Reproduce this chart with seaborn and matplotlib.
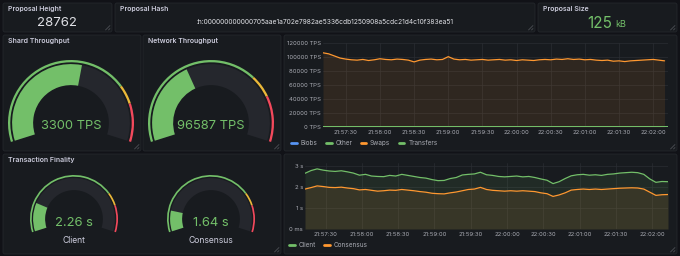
import numpy as np
import matplotlib
matplotlib.use("Agg")
import matplotlib.pyplot as plt
import seaborn as sns
from matplotlib.patches import FancyBboxPatch, Wedge
from matplotlib.lines import Line2D

# ------------------------------------------
# DATA
# ------------------------------------------
proposal_height = "28762"
proposal_hash = ":h:000000000000705aae1a702e7982ae5336cdb1250908a5cdc21d4c10f383ea51"
proposal_size = "125"
proposal_size_unit = "kB"

shard_tps = 3300
network_tps = 96587
client_finality = 2.26
consensus_finality = 1.64

shard_max = 6000
shard_thresholds = [0, 4500, 5000]
network_max = 250000
network_thresholds = [0, 175000, 200000]
finality_max = 12
finality_thresholds = [0, 9, 10]

# seconds after 21:57:00
tick_seconds = [30, 60, 90, 120, 150, 180, 210, 240, 270, 300]
tick_labels = ["21:57:30", "21:58:00", "21:58:30", "21:59:00", "21:59:30",
               "22:00:00", "22:00:30", "22:01:00", "22:01:30", "22:02:00"]

tps_series = ["Blobs", "Other", "Swaps", "Transfers"]
tps_ticks = [0, 20000, 40000, 60000, 80000, 100000, 120000]

swaps_t = np.arange(10, 315, 5)
swaps = [106000, 104500, 101500, 98500, 97000, 96000, 95500, 96500, 95000, 96000,
         97500, 96500, 96000, 97000, 96500, 95500, 93000, 95500, 96500, 97000,
         96000, 96500, 100500, 97000, 96000, 96500, 95500, 96000, 96500, 95500,
         96000, 96500, 95500, 96000, 95000, 96000, 95500, 95000, 96000, 96500,
         96000, 97000, 96500, 97500, 96500, 97000, 96000, 96500, 95500, 95000,
         95500, 94000, 94500, 93500, 94500, 95000, 95500, 96000, 96500, 95500,
         94500]
flat_t = [10, 313]
blobs = [0, 0]
other = [0, 0]
transfers = [0, 0]

finality_series = ["Client", "Consensus"]
finality_ticks = [0, 1, 2, 3]
finality_tick_labels = ["0 ms", "1 s", "2 s", "3 s"]

latency_t = np.arange(13, 318, 5)
client = [2.65, 2.78, 2.86, 2.80, 2.76, 2.74, 2.77, 2.72, 2.66, 2.56,
          2.60, 2.52, 2.50, 2.49, 2.55, 2.52, 2.60, 2.55, 2.50, 2.45,
          2.42, 2.35, 2.30, 2.31, 2.40, 2.45, 2.57, 2.60, 2.62, 2.70,
          2.58, 2.55, 2.50, 2.48, 2.50, 2.52, 2.48, 2.50, 2.45, 2.38,
          2.32, 2.16, 2.25, 2.40, 2.53, 2.58, 2.60, 2.56, 2.58, 2.55,
          2.60, 2.62, 2.66, 2.68, 2.70, 2.68, 2.60, 2.38, 2.22, 2.26,
          2.25]
consensus = [1.90, 1.97, 2.05, 2.02, 1.98, 1.97, 1.99, 1.95, 1.92, 1.86,
             1.88, 1.84, 1.80, 1.82, 1.85, 1.84, 1.88, 1.85, 1.82, 1.78,
             1.75, 1.70, 1.68, 1.67, 1.72, 1.76, 1.82, 1.88, 1.90, 1.98,
             1.88, 1.84, 1.82, 1.80, 1.82, 1.80, 1.82, 1.80, 1.78, 1.72,
             1.68, 1.55, 1.62, 1.72, 1.85, 1.88, 1.90, 1.88, 1.90, 1.88,
             1.90, 1.92, 1.94, 1.95, 1.96, 1.95, 1.90, 1.75, 1.60, 1.63,
             1.64]

# ------------------------------------------
# STYLE
# ------------------------------------------
W, H = 680, 256
PAGE = "#111217"
PANEL = "#181b1f"
BORDER = "#24272c"
TEXT = "#ccccdc"
AXTEXT = "#a9abb3"
GRID = "#2a2d33"
GREEN = "#73bf69"
YELLOW = "#eab839"
RED = "#f2495c"
ORANGE = "#ff9830"
BLUE = "#5794f2"
GAUGE_BG = "#25272d"
THRESH_COLORS = [GREEN, YELLOW, RED]

sns.set_theme(style="dark")
plt.rcParams["font.family"] = ["Inter", "DejaVu Sans"]

fig = plt.figure(figsize=(W / 100, H / 100), dpi=100, facecolor=PAGE)
bg = fig.add_axes([0, 0, 1, 1])
bg.set_xlim(0, W)
bg.set_ylim(H, 0)
bg.axis("off")
bg.set_facecolor(PAGE)


def panel(x0, y0, x1, y1, title=None):
    bg.add_patch(FancyBboxPatch((x0, y0), x1 - x0, y1 - y0,
                                boxstyle="round,pad=0,rounding_size=2",
                                fc=PANEL, ec=BORDER, lw=0.6, zorder=1))
    # resize handle
    for d in (3.5, 6.5):
        bg.plot([x1 - 2, x1 - d], [y1 - d, y1 - 2], color="#55585e", lw=0.5, zorder=2)
    if title:
        bg.text(x0 + 5, y0 + 6, title, color=TEXT, fontsize=5, fontweight=600,
                va="center", ha="left", zorder=3)


A0, A1 = 197.5, -17.5


def ang(v, vmax):
    return A0 - (v / vmax) * (A0 - A1)


def wedge(cx, cy, r, a_hi, a_lo, width, color):
    # screen angles -> data angles (y axis inverted)
    bg.add_patch(Wedge((cx, cy), r, -a_hi, -a_lo, width=width, fc=color, ec="none", zorder=3))


def gauge(cx, cy, r, value, vmax, thresholds, ring_w, gap, band_w):
    edges = list(thresholds) + [vmax]
    for i in range(len(thresholds)):
        wedge(cx, cy, r, ang(edges[i], vmax), ang(edges[i + 1], vmax), ring_w, THRESH_COLORS[i])
    rb = r - ring_w - gap
    wedge(cx, cy, rb, A0, A1, band_w, GAUGE_BG)
    wedge(cx, cy, rb, A0, ang(value, vmax), band_w, GREEN)


# ------------------------------------------
# PANELS
# ------------------------------------------
panel(3, 3, 112, 32, "Proposal Height")
panel(115, 3, 535, 32, "Proposal Hash")
panel(538, 3, 677, 32, "Proposal Size")
panel(3, 35, 141, 151, "Shard Throughput")
panel(143, 35, 281, 151, "Network Throughput")
panel(284, 35, 677, 151)
panel(3, 154, 281, 254, "Transaction Finality")
panel(284, 154, 677, 254)

bg.text(57, 23, proposal_height, color="#e0e1e6", fontsize=9.5, ha="center", va="center", zorder=4)
bg.text(325, 22, proposal_hash, color="#e0e1e6", fontsize=4.8, ha="center", va="center", zorder=4)
bg.text(612, 23, proposal_size, color=GREEN, fontsize=11, ha="right", va="center", zorder=4)
bg.text(615, 24.5, proposal_size_unit, color=GREEN, fontsize=6.5, ha="left", va="center", zorder=4)

gauge(71, 123, 63, shard_tps, shard_max, shard_thresholds, 2.3, 1.8, 21)
gauge(211, 123, 63, network_tps, network_max, network_thresholds, 2.3, 1.8, 21)
bg.text(71, 126, f"{shard_tps} TPS", color=GREEN, fontsize=9.3, ha="center", va="center", zorder=5)
bg.text(211, 126, f"{network_tps} TPS", color=GREEN, fontsize=9.3, ha="center", va="center", zorder=5)

gauge(74, 219, 44, client_finality, finality_max, finality_thresholds, 1.7, 1.4, 12)
gauge(211, 219, 44, consensus_finality, finality_max, finality_thresholds, 1.7, 1.4, 12)
bg.text(74, 223, f"{client_finality} s", color=GREEN, fontsize=9.4, ha="center", va="center", zorder=5)
bg.text(211, 223, f"{consensus_finality} s", color=GREEN, fontsize=9.4, ha="center", va="center", zorder=5)
bg.text(74, 240.5, "Client", color=TEXT, fontsize=6.2, ha="center", va="center", zorder=5)
bg.text(211, 240.5, "Consensus", color=TEXT, fontsize=6.2, ha="center", va="center", zorder=5)


# ------------------------------------------
# TIME SERIES
# ------------------------------------------
def ts_axes(x0, y0, x1, y1):
    ax = fig.add_axes([x0 / W, 1 - y1 / H, (x1 - x0) / W, (y1 - y0) / H])
    ax.set_facecolor(PANEL)
    for s in ax.spines.values():
        s.set_visible(False)
    ax.grid(True, color=GRID, lw=0.5)
    ax.tick_params(length=0, labelsize=4.3, colors=AXTEXT, pad=1.5)
    return ax


ax1 = ts_axes(323, 43, 668, 127)
ax1.fill_between(swaps_t, swaps, 0, color=ORANGE, alpha=0.1, lw=0)
sns.lineplot(x=swaps_t, y=swaps, ax=ax1, color=ORANGE, lw=0.9)
sns.lineplot(x=flat_t, y=blobs, ax=ax1, color=BLUE, lw=1.4)
sns.lineplot(x=flat_t, y=other, ax=ax1, color=GREEN, lw=1.4)
sns.lineplot(x=flat_t, y=transfers, ax=ax1, color=GREEN, lw=1.4)
ax1.set_xlim(10, 313)
ax1.set_ylim(0, 120000)
ax1.set_yticks(tps_ticks)
ax1.set_yticklabels([f"{v} TPS" for v in tps_ticks])
ax1.tick_params(axis="x", pad=2.5)
ax1.set_xticks(tick_seconds)
ax1.set_xticklabels(tick_labels)

ax2 = ts_axes(305, 163, 668, 229)
ax2.fill_between(latency_t, client, 0, color=GREEN, alpha=0.1, lw=0)
ax2.fill_between(latency_t, consensus, 0, color=ORANGE, alpha=0.1, lw=0)
sns.lineplot(x=latency_t, y=client, ax=ax2, color=GREEN, lw=0.9)
sns.lineplot(x=latency_t, y=consensus, ax=ax2, color=ORANGE, lw=0.9)
ax2.set_xlim(13, 313)
ax2.set_ylim(0, 3.14)
ax2.set_yticks(finality_ticks)
ax2.set_yticklabels(finality_tick_labels)
ax2.tick_params(axis="x", pad=2)
ax2.set_xticks(tick_seconds)
ax2.set_xticklabels(tick_labels)

for a in (ax1, ax2):
    a.set_xlabel("")
    a.set_ylabel("")


def legend(ax, names, colors, x, y):
    handles = [Line2D([0], [0], color=c, lw=2) for c in colors]
    ax.legend(handles, names, loc="center left", bbox_to_anchor=(x / W, 1 - y / H),
              bbox_transform=fig.transFigure, ncol=len(names), frameon=False,
              fontsize=4.6, labelcolor=AXTEXT, handlelength=0.9, handletextpad=0.6,
              columnspacing=1.3, borderpad=0, borderaxespad=0)


legend(ax1, tps_series, [BLUE, GREEN, ORANGE, GREEN], 291, 143)
legend(ax2, finality_series, [GREEN, ORANGE], 289, 245)

fig.savefig("out.png", dpi=100, facecolor=PAGE)
